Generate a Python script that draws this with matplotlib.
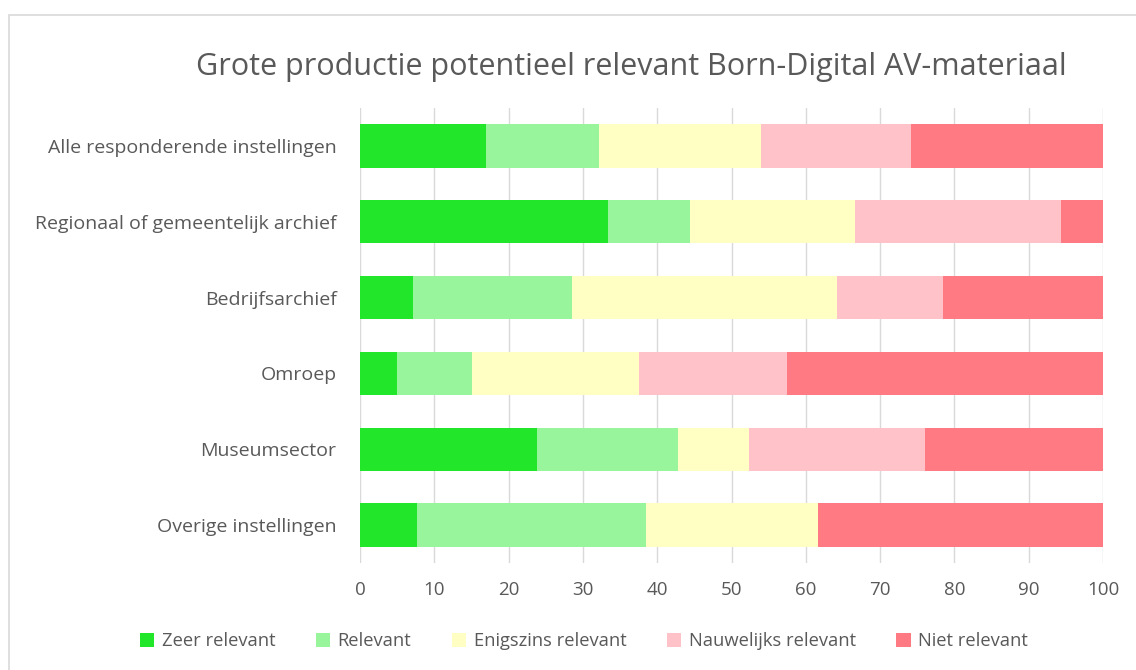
import numpy as np
import matplotlib.pyplot as plt
from matplotlib.patches import Rectangle

# data
categories = ['Alle responderende instellingen', 'Regionaal of gemeentelijk archief',
              'Bedrijfsarchief', 'Omroep', 'Museumsector', 'Overige instellingen']
zeer = [17.0, 33.3, 7.1, 5.0, 23.8, 7.7]
relevant = [15.2, 11.1, 21.4, 10.0, 19.0, 30.8]
enigszins = [21.8, 22.2, 35.7, 22.5, 9.5, 23.1]
nauwelijks = [20.2, 27.8, 14.3, 20.0, 23.8, 0.0]
niet = [25.8, 5.6, 21.5, 42.5, 24.1, 38.4]
series_names = ['Zeer relevant', 'Relevant', 'Enigszins relevant', 'Nauwelijks relevant', 'Niet relevant']
colors = ['#22e62a', '#99f59c', '#ffffc4', '#ffc2c8', '#ff7a82']

plt.rcParams['font.family'] = ['Open Sans', 'DejaVu Sans']
txt = '#595959'

fig = plt.figure(figsize=(11.36, 6.70), dpi=100)
ax = fig.add_axes([0.317, 0.1597, 0.654, 0.679])

# outer chart frame
fig.patches.append(Rectangle((9 / 1136, -0.01), 1.1, 1 - 15 / 670 + 0.01, transform=fig.transFigure,
                             fill=False, edgecolor='#d9d9d9', lw=1.2))

y = np.arange(len(categories))
left = np.zeros(len(categories))
for vals, name, c in zip([zeer, relevant, enigszins, nauwelijks, niet], series_names, colors):
    ax.barh(y, vals, left=left, height=0.57, color=c, label=name, zorder=3)
    left += np.array(vals)

ax.set_ylim(len(categories) - 0.5, -0.5)
ax.set_xlim(0, 100)
ax.set_xticks(np.arange(0, 101, 10))
ax.set_yticks(y)
ax.set_yticklabels(categories)
ax.tick_params(axis='y', length=0, pad=17, labelsize=14, labelcolor=txt)
ax.tick_params(axis='x', length=0, pad=13, labelsize=13.5, labelcolor=txt)
ax.grid(axis='x', color='#d9d9d9', lw=1, zorder=0)
for s in ax.spines.values():
    s.set_visible(False)

fig.text(0.556, 0.9, 'Grote productie potentieel relevant Born-Digital AV-materiaal',
         ha='center', va='center', fontsize=22, color=txt)

fig.legend(loc='center', bbox_to_anchor=(0.514, 0.043), ncol=5, frameon=False, fontsize=13.2,
           handlelength=0.8, handleheight=0.8, handletextpad=0.4, columnspacing=2.2, labelcolor=txt)

fig.savefig('out.png', dpi=100, facecolor='white')
